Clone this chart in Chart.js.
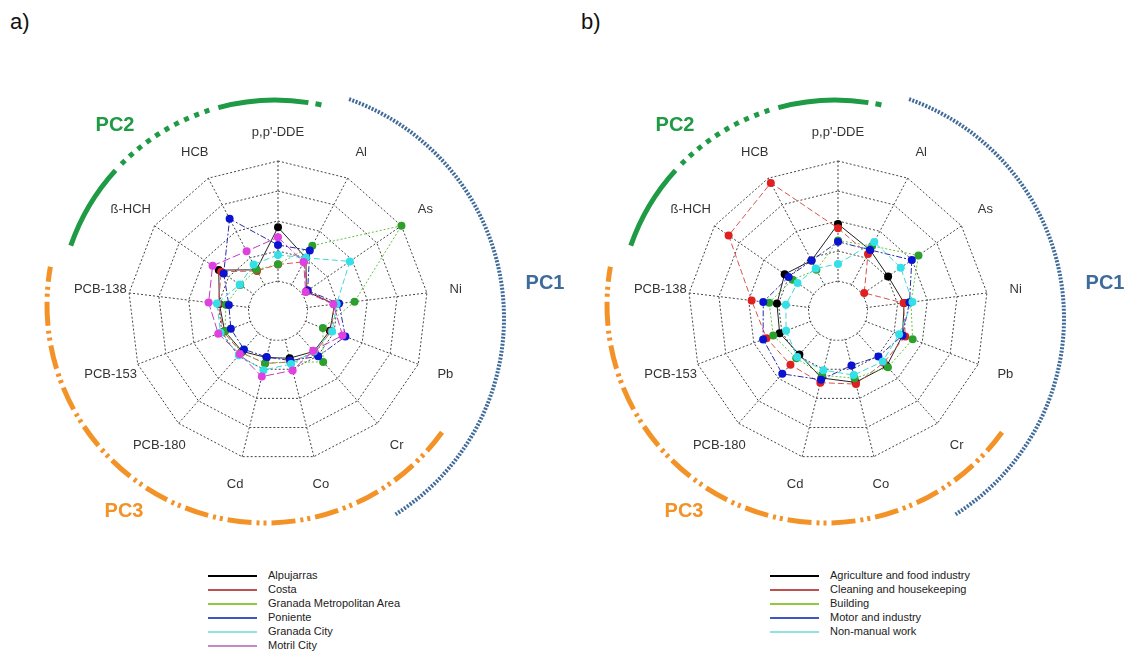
<!DOCTYPE html>
<html>
<head>
<meta charset="utf-8">
<script src="https://cdn.jsdelivr.net/npm/chart.js@4.4.0/dist/chart.umd.min.js"></script>
<style>
  body { margin: 0; background: #fff; }
  #page { position: relative; width: 1129px; height: 651px; overflow: hidden; font-family: "Liberation Sans", Arial, sans-serif; }
  canvas { position: absolute; top: 0; }
  .tag { position: absolute; top: 9px; font-size: 22px; color: #111; }
  .legend { position: absolute; top: 568px; font-size: 11px; color: #222; }
  .legend div { height: 14px; line-height: 14px; white-space: nowrap; }
  .legend span { display: inline-block; width: 49px; height: 2px; vertical-align: middle; margin-right: 11px; }
</style>
</head>
<body>
<div id="page">
  <div class="tag" style="left:10px">a)</div>
  <div class="tag" style="left:581px">b)</div>
  <canvas id="chartA" width="600" height="560" style="left:0"></canvas>
  <canvas id="chartB" width="569" height="560" style="left:560px"></canvas>
  <div class="legend" id="legA" style="left:208px"></div>
  <div class="legend" id="legB" style="left:770px"></div>
</div>
<script>
// compounds, clockwise from the top
const axes = ["p,p'-DDE", "Al", "As", "Ni", "Pb", "Cr", "Co", "Cd", "PCB-180", "PCB-153", "PCB-138", "ß-HCH", "HCB"]
const rings = [0, 5]

// a) by area
const areas = ["Alpujarras", "Costa", "Granada Metropolitan Area", "Poniente", "Granada City", "Motril City"]
const alpujarras = [2.79, 2.0, 1.15, 1.9, 1.85, 1.8, 1.62, 1.6, 1.8, 1.9, 1.97, 2.4, 1.55]
const costa      = [1.55, 1.85, 1.2, 1.9, 1.9, 1.85, 1.75, 1.8, 1.85, 1.95, 2.0, 2.3, 1.51]
const granadaMet = [1.56, 2.46, 5.0, 2.57, 1.6, 2.27, 1.75, 1.79, 1.85, 1.89, 1.75, 1.53, 1.55]
const poniente   = [2.2, 2.28, 1.2, 2.05, 2.4, 2.02, 1.7, 1.58, 1.71, 1.68, 1.65, 2.2, 3.47]
const granadaCity = [1.87, 2.0, 2.91, 1.97, 1.93, 1.8, 1.82, 2.03, 1.97, 2.05, 2.05, 1.55, 1.75]
const motrilCity = [2.46, 1.84, 1.12, 1.86, 2.3, 1.77, 2.04, 2.25, 1.92, 2.13, 2.33, 2.65, 2.25]

// b) by occupation
const jobs = ["Agriculture and food industry", "Cleaning and housekeeping", "Building", "Motor and industry", "Non-manual work"]
const agriculture = [2.9, 2.3, 2.03, 2.22, 2.3, 2.45, 2.45, 2.3, 1.94, 2.08, 2.05, 2.16, 1.9]
const cleaning    = [2.76, 2.15, 1.06, 2.2, 2.4, 2.3, 2.51, 2.46, 2.39, 2.55, 2.9, 4.43, 4.82]
const building    = [2.35, 2.45, 3.26, 2.45, 2.66, 2.51, 2.31, 2.2, 2.1, 2.31, 2.31, 1.84, 1.55]
const motor       = [2.31, 2.3, 2.99, 2.4, 2.3, 2.03, 1.87, 2.36, 2.8, 2.67, 2.51, 2.0, 1.9]
const nonManual   = [1.57, 2.6, 2.54, 2.5, 2.18, 2.25, 2.2, 2.03, 2.05, 1.85, 1.75, 1.64, 1.6]

const styles = [
  {line: '#222', point: '#000', dash: [], leg: '#000'},
  {line: '#d9534f', point: '#e02020', dash: [6, 3], leg: '#c0504d'},
  {line: '#66c040', point: '#2ca02c', dash: [2, 2], leg: '#92c83e'},
  {line: '#2a2aa0', point: '#0a14d0', dash: [6, 2, 2, 2], leg: '#3f56c8'},
  {line: '#40d8d8', point: '#33e0e8', dash: [6, 3], leg: '#8fe3e0'},
  {line: '#c03cc0', point: '#e040e0', dash: [8, 3], leg: '#c688c6'},
]

const arcs = [
  {color: '#1f9a45', width: 5, dx: -3, dy: 5, r: 216,
   parts: [[-161, -137.6, []], [-135.3, -107.3, [5, 6]], [-105.2, -81.1, []], [-79.2, -77.6, []]]},
  {color: '#3f6b9a', width: 4, dx: -6, dy: 7, r: 232, parts: [[-70.6, 57.8, [2, 1.5]]]},
  {color: '#f39227', width: 5, dx: -13, dy: -6, r: 218, parts: [[35.7, 190.1, [24, 5, 3, 4, 3, 5]]]},
]
const pcText = [['PC2', '#1f9a45', -163, -186], ['PC1', '#3f6b9a', 267, -28], ['PC3', '#f39227', -154, 200]]

const decor = {
  id: 'decor',
  beforeDatasetsDraw(chart) {
    const s = chart.scales.r
    const ctx = chart.ctx
    ctx.save()
    ctx.fillStyle = '#fff'
    ctx.beginPath()
    ctx.arc(s.xCenter, s.yCenter, s.getDistanceFromCenterForValue(1) - 1.5, 0, Math.PI * 2)
    ctx.fill()
    ctx.restore()
  },
  afterDraw(chart) {
    const s = chart.scales.r
    const ctx = chart.ctx
    ctx.save()
    ctx.font = '13px "Liberation Sans", Arial, sans-serif'
    ctx.fillStyle = '#333'
    ctx.textAlign = 'center'
    ctx.textBaseline = 'middle'
    axes.forEach((a, i) => {
      const p = s.getPointPosition(i, s.drawingArea + 29)
      ctx.fillText(a, p.x, p.y)
    })
    arcs.forEach(arc => {
      ctx.strokeStyle = arc.color
      ctx.lineWidth = arc.width
      arc.parts.forEach(([a0, a1, dash]) => {
        ctx.setLineDash(dash)
        ctx.beginPath()
        ctx.arc(s.xCenter + arc.dx, s.yCenter + arc.dy, arc.r, a0 * Math.PI / 180, a1 * Math.PI / 180)
        ctx.stroke()
      })
    })
    ctx.font = 'bold 20px "Liberation Sans", Arial, sans-serif'
    pcText.forEach(([t, c, x, y]) => {
      ctx.fillStyle = c
      ctx.fillText(t, s.xCenter + x, s.yCenter + y)
    })
    ctx.restore()
  }
}

function makeSets(names, series) {
  return names.map((n, i) => ({
    label: n,
    data: series[i],
    order: names.length - i,
    borderColor: styles[i].line,
    borderWidth: 1,
    borderDash: styles[i].dash,
    pointBackgroundColor: styles[i].point,
    pointBorderWidth: 0,
    pointRadius: 4,
    fill: false,
  }))
}

function radar(id, names, series, padRight) {
  new Chart(document.getElementById(id), {
    type: 'radar',
    data: {labels: axes, datasets: makeSets(names, series)},
    options: {
      responsive: false,
      animation: false,
      layout: {padding: {left: 128, right: padRight, top: 161, bottom: 99}},
      plugins: {legend: {display: false}, tooltip: {enabled: false}},
      elements: {line: {tension: 0}},
      scales: {
        r: {
          min: rings[0],
          max: rings[1],
          ticks: {display: false, stepSize: 1},
          grid: {color: '#444', lineWidth: 1},
          border: {dash: [2, 2]},
          angleLines: {color: '#444', lineWidth: 1, borderDash: [2, 2]},
          pointLabels: {display: false},
        }
      }
    },
    plugins: [decor]
  })
}

function legend(id, names) {
  const box = document.getElementById(id)
  names.forEach((n, i) => {
    const row = document.createElement('div')
    row.innerHTML = '<span style="background:' + styles[i].leg + '"></span>' + n
    box.appendChild(row)
  })
}

radar('chartA', areas, [alpujarras, costa, granadaMet, poniente, granadaCity, motrilCity], 172)
radar('chartB', jobs, [agriculture, cleaning, building, motor, nonManual], 141)
legend('legA', areas)
legend('legB', jobs)
</script>
</body>
</html>
